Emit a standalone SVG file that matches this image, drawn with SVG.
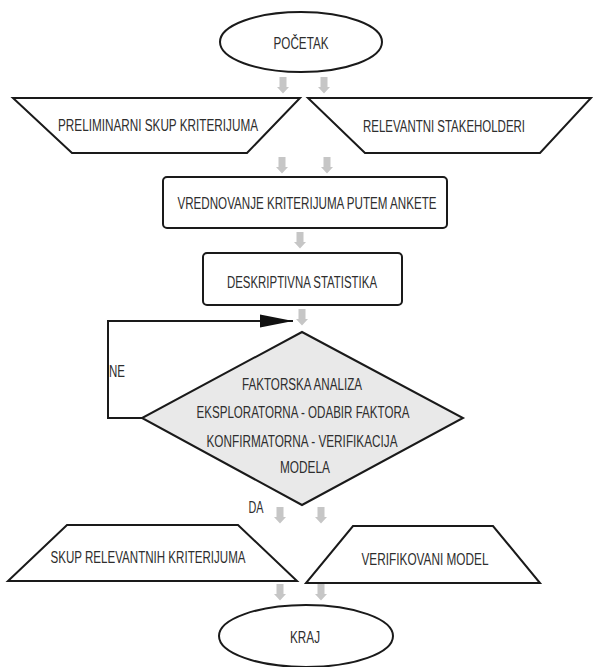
<svg xmlns="http://www.w3.org/2000/svg" width="593" height="667" viewBox="0 0 593 667">
<style>
.s{fill:#fff;stroke:#1a1a1a;stroke-width:2}
.d{fill:#e9e9e9;stroke:#1a1a1a;stroke-width:2}
.t{font-family:"Liberation Sans",Arial,sans-serif;font-size:16px;fill:#2e2e2e;text-anchor:middle}
.ln{fill:none;stroke:#1a1a1a;stroke-width:2}
.ga{fill:#c6c6c6}
</style>
<defs>
<path id="ga" class="ga" d="M-3.5,0 h7 v10 h2.5 l-6,6.5 l-6,-6.5 h2.5 z"/>
<marker id="ah" markerWidth="34" markerHeight="14" refX="33" refY="7" orient="auto" markerUnits="userSpaceOnUse">
<path d="M0,0.5 L33,7 L0,13.5 z" fill="#111"/>
</marker>
</defs>
<g id="connectors">
<use href="#ga" x="283" y="77"/>
<use href="#ga" x="324" y="77"/>
<use href="#ga" x="282" y="157"/>
<use href="#ga" x="327" y="157"/>
<use href="#ga" x="300" y="232"/>
<use href="#ga" x="302" y="309"/>
<use href="#ga" x="280" y="507"/>
<use href="#ga" x="321" y="507"/>
<use href="#ga" x="280" y="584"/>
<use href="#ga" x="321" y="584"/>
<polyline class="ln" points="142,418 108,418 108,321 293,321" marker-end="url(#ah)"/>
<text class="t" x="117" y="377" textLength="16" lengthAdjust="spacingAndGlyphs">NE</text>
<text class="t" x="256" y="513" textLength="15" lengthAdjust="spacingAndGlyphs">DA</text>
</g>
<g id="pocetak">
<ellipse class="s" cx="301" cy="42" rx="81" ry="30"/>
<text class="t" x="301" y="49" textLength="55" lengthAdjust="spacingAndGlyphs">POČETAK</text>
</g>
<g id="preliminarni">
<polygon class="s" points="13,98 300,98 247,153 72,153"/>
<text class="t" x="158" y="131" textLength="200" lengthAdjust="spacingAndGlyphs">PRELIMINARNI SKUP KRITERIJUMA</text>
</g>
<g id="stakeholderi">
<polygon class="s" points="308,98 591,98 540,153 365,153"/>
<text class="t" x="444" y="132" textLength="162" lengthAdjust="spacingAndGlyphs">RELEVANTNI STAKEHOLDERI</text>
</g>
<g id="vrednovanje">
<rect class="s" x="163" y="177" width="284" height="51" rx="4"/>
<text class="t" x="307" y="209" textLength="259" lengthAdjust="spacingAndGlyphs">VREDNOVANJE KRITERIJUMA PUTEM ANKETE</text>
</g>
<g id="deskriptivna">
<rect class="s" x="203" y="253" width="199" height="52" rx="4"/>
<text class="t" x="302" y="288" textLength="150" lengthAdjust="spacingAndGlyphs">DESKRIPTIVNA STATISTIKA</text>
</g>
<g id="faktorska">
<polygon class="d" points="302,332 463,418 302,505 142,418"/>
<text class="t" x="302" y="390" textLength="120" lengthAdjust="spacingAndGlyphs">FAKTORSKA ANALIZA</text>
<text class="t" x="303" y="418" textLength="213" lengthAdjust="spacingAndGlyphs">EKSPLORATORNA - ODABIR FAKTORA</text>
<text class="t" x="302" y="447" textLength="191" lengthAdjust="spacingAndGlyphs">KONFIRMATORNA - VERIFIKACIJA</text>
<text class="t" x="305" y="473" textLength="50" lengthAdjust="spacingAndGlyphs">MODELA</text>
</g>
<g id="skup">
<polygon class="s" points="67,525 238,525 297,581 8,581"/>
<text class="t" x="148" y="563" textLength="195" lengthAdjust="spacingAndGlyphs">SKUP RELEVANTNIH KRITERIJUMA</text>
</g>
<g id="verifikovani">
<polygon class="s" points="353,526 493,526 540,583 306,583"/>
<text class="t" x="425" y="565" textLength="127" lengthAdjust="spacingAndGlyphs">VERIFIKOVANI MODEL</text>
</g>
<g id="kraj">
<ellipse class="s" cx="306" cy="636" rx="87" ry="31"/>
<text class="t" x="305" y="643" textLength="30" lengthAdjust="spacingAndGlyphs">KRAJ</text>
</g>
</svg>
